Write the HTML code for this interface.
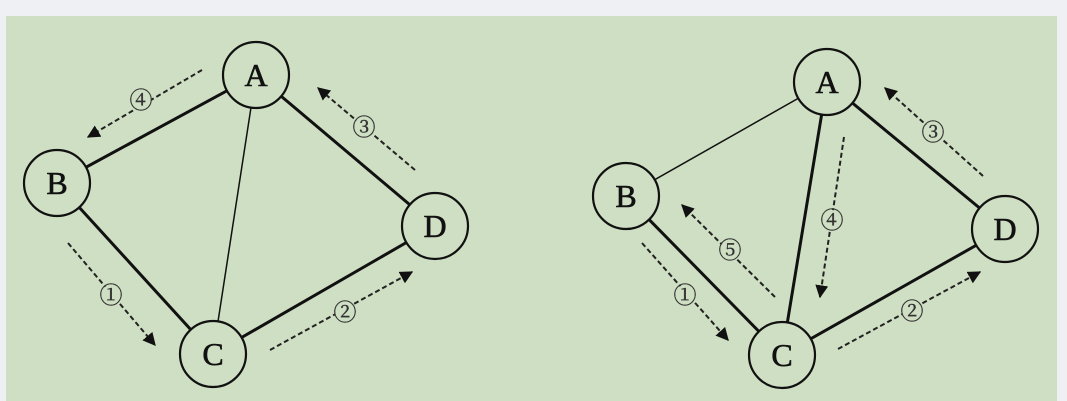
<!DOCTYPE html>
<html><head><meta charset="utf-8"><style>
html,body{margin:0;padding:0;background:#eef0f4;}
svg{display:block}
</style></head><body>
<svg width="1067" height="401" viewBox="0 0 1067 401">
<defs><marker id="ah" viewBox="0 0 10 10" refX="9" refY="5" markerWidth="6.5" markerHeight="6.5" markerUnits="strokeWidth" orient="auto"><path d="M0,0 L10,5 L0,10 z" fill="#111"/></marker></defs>
<rect x="6" y="16" width="1051" height="385" fill="#cfdfc3"/>
<g id="g"></g>
</svg>
<script>
const nodeNames=['A','B','C','D'];
const leftNodes=[[256,75],[57,183],[213,354],[435,226]];
const rightNodes=[[827,82],[626,196],[782,355],[1005,229]];
const leftEdges=[['A','B',3],['B','C',3],['C','D',3],['A','D',3],['A','C',1.5]];
const rightEdges=[['A','B',1.5],['B','C',3],['A','C',3],['A','D',3],['C','D',3]];
const leftArrows=[['④',202,70,88,137,141,100],['③',415,170,318,88,364,127],['①',68,243,155,345,111,295],['②',270,350,412,272,345,312]];
const rightArrows=[['③',983,176,885,88,933,132],['④',844,137,820,297,832,220],['⑤',775,297,682,205,730,250],['①',642,243,728,340,685,295],['②',838,349,980,272,912,311]];
const NS='http://www.w3.org/2000/svg';
const g=document.getElementById('g');
function mk(t,a){const e=document.createElementNS(NS,t);for(const k in a)e.setAttribute(k,a[k]);g.appendChild(e);return e;}
function draw(nodes,edges,arrows,side){
  const pos={};nodeNames.forEach((n,i)=>pos[n]=nodes[i]);
  edges.forEach(([a,b,w])=>{const e=mk('line',{x1:pos[a][0],y1:pos[a][1],x2:pos[b][0],y2:pos[b][1],stroke:'#111','stroke-width':w});
    
    });
  arrows.forEach(([l,x1,y1,x2,y2,lx,ly])=>{
    const e=mk('line',{x1,y1,x2,y2,stroke:'#222','stroke-width':2,'stroke-dasharray':'5 3','marker-end':'url(#ah)'});
    
    
    const c=mk('circle',{cx:lx,cy:ly,r:10,fill:'#cfdfc3'});
    
    
    const t=mk('text',{x:lx,y:ly+8,'text-anchor':'middle','font-size':23,'font-family':'"Liberation Serif","Noto Serif CJK SC",serif',fill:'#333','stroke':'#333','stroke-width':0.4});
    t.textContent=l;
    
    
  });
  nodeNames.forEach(n=>{
    const c=mk('circle',{cx:pos[n][0],cy:pos[n][1],r:33,fill:'#cfdfc3',stroke:'#111','stroke-width':2.2});
    
    
    const t=mk('text',{x:pos[n][0],y:pos[n][1]+11,'text-anchor':'middle','font-size':32,'font-family':'"Liberation Serif",serif',fill:'#111','stroke':'#111','stroke-width':0.6});
    t.textContent=n;
    
    
  });
}
draw(leftNodes,leftEdges,leftArrows,'left');
draw(rightNodes,rightEdges,rightArrows,'right');
</script>
</body></html>
